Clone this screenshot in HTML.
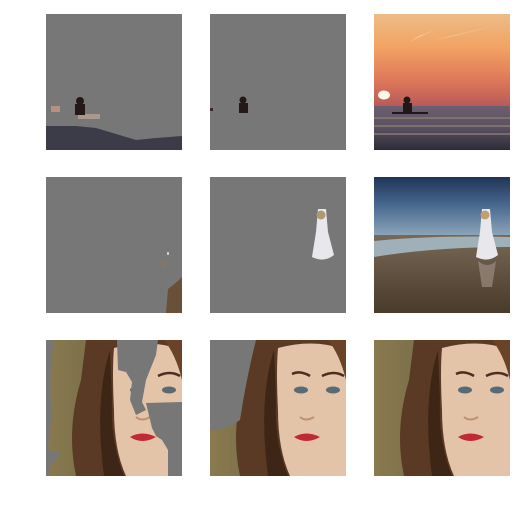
<!DOCTYPE html>
<html><head><meta charset="utf-8"><style>
html,body{margin:0;padding:0;background:#fff;width:520px;height:510px;overflow:hidden}
svg{position:absolute;left:0;top:0}
</style></head><body>
<svg width="520" height="510" viewBox="0 0 520 510">
<defs>
<linearGradient id="sky" x1="0" y1="0" x2="0" y2="1">
<stop offset="0" stop-color="#ecbc88"/><stop offset="0.35" stop-color="#f2a464"/><stop offset="0.7" stop-color="#e07a5a"/><stop offset="1" stop-color="#b85a5a"/></linearGradient>
<linearGradient id="sea" x1="0" y1="0" x2="0" y2="1">
<stop offset="0" stop-color="#6a6070"/><stop offset="0.5" stop-color="#5a5060"/><stop offset="1" stop-color="#2c2c38"/></linearGradient>
<linearGradient id="bsky" x1="0" y1="0" x2="0" y2="1">
<stop offset="0" stop-color="#1e3458"/><stop offset="0.5" stop-color="#4a6a90"/><stop offset="1" stop-color="#8aa4b8"/></linearGradient>
<linearGradient id="sand" x1="0" y1="0" x2="0" y2="1">
<stop offset="0" stop-color="#6a6a64"/><stop offset="0.4" stop-color="#7a6a58"/><stop offset="1" stop-color="#4a3a2a"/></linearGradient>
<linearGradient id="bg" x1="0" y1="0" x2="1" y2="0">
<stop offset="0" stop-color="#8a7a50"/><stop offset="1" stop-color="#5a5a3a"/></linearGradient>
<g id="face">
<rect x="0" y="0" width="136" height="136" fill="url(#bg)"/>
<path d="M40 0 H136 V136 H30 Q20 90 35 40 Z" fill="#5a3a24"/>
<path d="M68 8 Q105 -2 136 10 V136 H80 Q68 110 68 70 Q66 30 68 8 Z" fill="#e4c4a8"/>
<path d="M118 0 H136 V40 Q130 15 118 0Z" fill="#6a4228"/>
<path d="M64 10 Q48 60 58 136 H78 Q64 100 66 60 Z" fill="#3e2616"/>
<path d="M82 34 Q90 30 100 36" stroke="#4a2e20" stroke-width="2.5" fill="none"/>
<path d="M112 36 Q124 30 134 36" stroke="#4a2e20" stroke-width="2.5" fill="none"/>
<ellipse cx="91" cy="50" rx="7" ry="3.5" fill="#5a6a74"/>
<ellipse cx="123" cy="50" rx="7" ry="3.5" fill="#5a6a74"/>
<path d="M90 77 Q96 82 104 77" stroke="#c09070" stroke-width="2" fill="none"/>
<path d="M84 97 Q96 90 110 97 Q96 105 84 97 Z" fill="#c02a35"/>
</g>
</defs>

<!-- Row 1 -->
<g transform="translate(46,14)">
<rect width="136" height="136" fill="#777"/>
<path d="M0 112 L30 112 L50 114 L70 120 L90 126 L110 124 L136 122 V136 H0 Z" fill="#3c3c48"/>
<rect x="5" y="92" width="9" height="6" fill="#b89080"/>
<rect x="32" y="100" width="22" height="5" fill="#a89890"/>
<circle cx="34" cy="87" r="4" fill="#241818"/><rect x="29" y="90" width="10" height="11" fill="#241818"/>
</g>
<g transform="translate(210,14)">
<rect width="136" height="136" fill="#777"/>
<rect x="0" y="94" width="3" height="3" fill="#3a2a2a"/>
<circle cx="33" cy="86" r="3.5" fill="#241818"/><rect x="29" y="89" width="9" height="10" fill="#241818"/>
</g>
<g transform="translate(374,14)">
<rect width="136" height="92" fill="url(#sky)"/>
<path d="M35 28 L60 16 L45 22Z M60 26 L120 12 L80 22Z" fill="#f4cfa0"/>
<rect y="92" width="136" height="44" fill="url(#sea)"/>
<path d="M0 104 H136 M0 112 H136 M0 120 H136" stroke="#8a7a70" stroke-width="1.5"/>
<ellipse cx="10" cy="81" rx="6" ry="4.5" fill="#fff6ea"/>
<circle cx="33" cy="86" r="3.5" fill="#201818"/><rect x="29" y="89" width="9" height="10" fill="#201818"/>
<rect x="18" y="98" width="36" height="2" fill="#201818"/>
</g>

<!-- Row 2 -->
<g transform="translate(46,177)">
<rect width="136" height="136" fill="#777"/>
<path d="M122 112 L132 104 L136 100 V136 H120 Z" fill="#6a5038"/>
<rect x="115" y="85" width="5" height="6" fill="#8a7660"/>
<rect x="121" y="75" width="2" height="3" fill="#ccc"/>
</g>
<g transform="translate(210,177)">
<rect width="136" height="136" fill="#777"/>
<path d="M108 32 L116 32 L118 55 L124 78 Q114 86 102 80 L106 55 Z" fill="#e8e8ec"/>
<circle cx="111" cy="38" r="4.5" fill="#b09870"/>
</g>
<g transform="translate(374,177)">
<rect width="136" height="136" fill="url(#sand)"/>
<rect width="136" height="58" fill="url(#bsky)"/>
<path d="M0 64 Q60 58 136 60 L136 70 Q60 70 0 80Z" fill="#a0b0b8"/>
<path d="M108 32 L116 32 L118 55 L124 78 Q114 86 102 80 L106 55 Z" fill="#e8e8ec"/>
<circle cx="111" cy="38" r="4.5" fill="#c0a070"/>
<path d="M104 84 Q114 92 122 84 L118 110 L108 110 Z" fill="#9a8c80" opacity="0.7"/>
</g>

<!-- Row 3 -->
<g transform="translate(46,340)">
<use href="#face"/>
<path d="M0 0 H8 Q2 40 6 80 Q0 100 4 136 H0Z" fill="#777"/>
<path d="M71 0 H112 L110 15 L104 30 L100 40 L96 62 L100 70 L90 75 L84 60 L86 42 L80 32 L72 30 Z" fill="#777"/>
<path d="M100 63 L136 62 V136 H122 L122 110 L116 100 L110 96 L106 88 Z" fill="#777"/>
<path d="M0 110 L14 112 Q10 124 0 128Z" fill="#777"/>
</g>
<g transform="translate(210,340)">
<use href="#face"/>
<path d="M0 0 H46 Q36 40 30 80 Q16 90 0 90Z" fill="#777"/>
</g>
<g transform="translate(374,340)">
<use href="#face"/>
</g>
</svg>
</body></html>
